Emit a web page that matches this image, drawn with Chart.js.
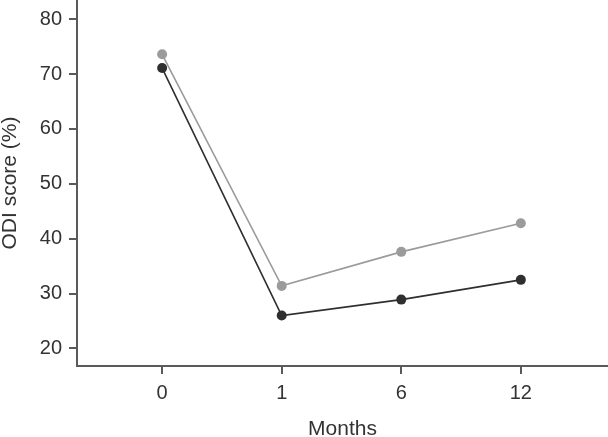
<!DOCTYPE html>
<html>
<head>
<meta charset="utf-8">
<script src="https://cdn.jsdelivr.net/npm/chart.js@4"></script>
<style>
  html, body { margin: 0; padding: 0; background: #fff; }
  #wrap { width: 608px; height: 437px; position: relative; }
</style>
</head>
<body>
<div id="wrap"><canvas id="odiChart"></canvas></div>
<script>
// --- Dados ---
const months = ['0', '1', '6', '12'];
const groupLight = [73.6, 31.4, 37.6, 42.8];
const groupDark = [71.1, 26.0, 28.9, 32.5];
const yTicks = [20, 30, 40, 50, 60, 70, 80];

const axisColor = '#5a5a5a';
const textColor = '#333333';
const fontFamily = '"Liberation Sans", Arial, sans-serif';

// pontos posicionados por índice (escala linear para ter margens largas nas pontas)
const toPoints = arr => arr.map((v, i) => ({ x: i, y: v }));

const ctx = document.getElementById('odiChart').getContext('2d');

new Chart(ctx, {
    type: 'line',
    data: {
        datasets: [{
            label: 'Group A',
            data: toPoints(groupLight),
            borderColor: '#9b9b9b',
            backgroundColor: '#9b9b9b',
            borderWidth: 1.6,
            pointRadius: 5,
            pointBorderWidth: 0,
            tension: 0
        }, {
            label: 'Group B',
            data: toPoints(groupDark),
            borderColor: '#2f2f2f',
            backgroundColor: '#2f2f2f',
            borderWidth: 1.6,
            pointRadius: 5,
            pointBorderWidth: 0,
            tension: 0
        }]
    },
    options: {
        responsive: true,
        maintainAspectRatio: false,
        animation: false,
        layout: { padding: 0, autoPadding: false }, // eixos encostam nas bordas como no original
        plugins: {
            legend: { display: false },
            tooltip: { enabled: false }
        },
        scales: {
            x: {
                type: 'linear',
                min: -0.712,
                max: 3.729,
                afterBuildTicks: scale => {
                    scale.ticks = months.map((_, i) => ({ value: i }));
                },
                afterFit: scale => {
                    scale.height = 71;
                    scale.paddingLeft = 0;
                    scale.paddingRight = 0;
                },
                border: { color: axisColor, width: 2 },
                grid: { drawOnChartArea: false, drawTicks: true, tickLength: 8, color: axisColor, lineWidth: 2 },
                ticks: {
                    color: textColor,
                    font: { family: fontFamily, size: 20 },
                    padding: 7,
                    maxRotation: 0,
                    callback: v => months[v] ?? ''
                },
                title: {
                    display: true,
                    text: 'Months',
                    color: textColor,
                    font: { family: fontFamily, size: 21 },
                    padding: { top: 0, bottom: -5 }
                }
            },
            y: {
                min: 16.8,
                max: 83.5,
                afterBuildTicks: scale => {
                    scale.ticks = yTicks.map(v => ({ value: v }));
                },
                afterFit: scale => {
                    scale.width = 77;
                    scale.paddingTop = 0;
                    scale.paddingBottom = 0;
                },
                border: { color: axisColor, width: 2 },
                grid: { drawOnChartArea: false, drawTicks: true, tickLength: 8, color: axisColor, lineWidth: 2 },
                ticks: {
                    color: textColor,
                    font: { family: fontFamily, size: 20 },
                    padding: 7
                },
                title: {
                    display: true,
                    text: 'ODI score (%)',
                    color: textColor,
                    font: { family: fontFamily, size: 21 },
                    padding: { top: -2, bottom: 0 }
                }
            }
        }
    }
});
</script>
</body>
</html>
